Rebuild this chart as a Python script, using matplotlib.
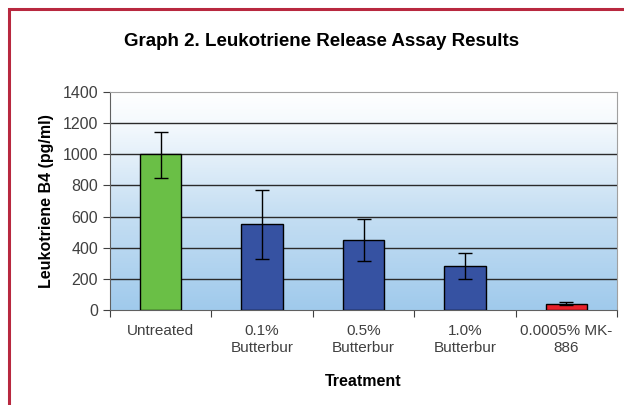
import numpy as np
import matplotlib.pyplot as plt
from matplotlib.colors import LinearSegmentedColormap
from matplotlib.patches import Rectangle

plt.rcParams['font.family'] = ['Liberation Sans', 'DejaVu Sans']

# data
categories = ['Untreated', '0.1%\nButterbur', '0.5%\nButterbur', '1.0%\nButterbur', '0.0005% MK-\n886']
values = [1000, 550, 450, 285, 40]
err_low = [150, 220, 135, 85, 10]
err_high = [145, 220, 135, 80, 10]
colors = ['#6abf46', '#3652a2', '#3652a2', '#3652a2', '#e8202a']

fig = plt.figure(figsize=(6.24, 4.05), dpi=100)
ax = fig.add_axes([0.1763, 0.2346, 0.8125, 0.5382])

# gradient background
cmap = LinearSegmentedColormap.from_list(
    'bg', [(0, '#a0caec'), (0.45, '#c6dff3'), (0.85, '#f4f9fd'), (1, '#ffffff')])
grad = np.linspace(0, 1, 256).reshape(-1, 1)
ax.imshow(grad, aspect='auto', cmap=cmap, origin='lower',
          extent=(-0.5, 4.5, 0, 1400), zorder=0)

x = np.arange(len(categories))
ax.bar(x, values, width=0.41, color=colors, edgecolor='black', linewidth=1.0, zorder=3)
ax.errorbar(x, values, yerr=[err_low, err_high], fmt='none', ecolor='black',
            elinewidth=1.0, capsize=5, capthick=1.0, zorder=4)

ax.set_xlim(-0.5, 4.5)
ax.set_ylim(0, 1400)
ax.set_yticks(range(0, 1401, 200))
for y in range(200, 1400, 200):
    ax.axhline(y, color='#2a2a2a', linewidth=1.0, zorder=2)

ax.set_xticks(np.arange(-0.5, 4.6, 1.0))
ax.set_xticklabels([])
ax.set_xticks(x, minor=True)
ax.set_xticklabels(categories, minor=True, fontsize=11, color='#404040', linespacing=1.25)
ax.tick_params(axis='x', which='minor', length=0, pad=10)
ax.tick_params(axis='x', which='major', length=5, color='#404040', direction='out')
ax.tick_params(axis='y', length=5, color='#404040', labelsize=11.5, labelcolor='#404040')

for s in ['top', 'right']:
    ax.spines[s].set_color('#a0a0a0')
ax.spines['left'].set_color('#606060')
ax.spines['bottom'].set_color('#606060')

fig.text(322 / 624, 1 - 42 / 405, 'Graph 2. Leukotriene Release Assay Results',
         fontsize=13.5, fontweight='bold', ha='center', va='center')
ax.set_xlabel('Treatment', fontsize=11.5, fontweight='bold', labelpad=14)
ax.set_ylabel('Leukotriene B4 (pg/ml)', fontsize=11.5, fontweight='bold', labelpad=6)

# figure frame
fig.patches.append(Rectangle((9 / 624, -0.1), 1.2, 1 - 9 / 405 + 0.1, transform=fig.transFigure,
                             fill=False, edgecolor='#b8283f', linewidth=2.2))

fig.savefig('out.png', dpi=100)
